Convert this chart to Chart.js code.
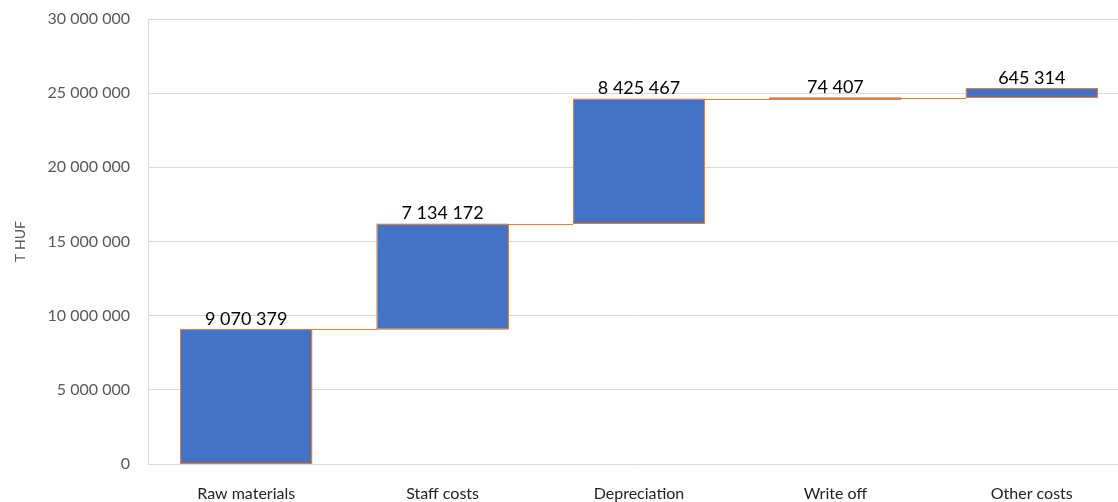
<!DOCTYPE html>
<html>
<head>
<meta charset="utf-8">
<script src="https://cdn.jsdelivr.net/npm/chart.js@4.4.1/dist/chart.umd.min.js"></script>
<style>
  html, body { margin: 0; padding: 0; background: #ffffff; overflow: hidden; }
  #wrap { width: 1118px; height: 502px; position: relative; overflow: hidden; }
  #c { display: block; }
</style>
</head>
<body>
<div id="wrap"><canvas id="c" width="1130" height="502"></canvas></div>
<script>
const categories = ["Raw materials", "Staff costs", "Depreciation", "Write off", "Other costs"];
const amounts = [9070379, 7134172, 8425467, 74407, 645314];
const yTickMin = 0;
const yTickMax = 30000000;
const yTickStep = 5000000;
const yTitle = "T HUF";

function fmt(n) {
  return String(Math.round(n)).replace(/\B(?=(\d{3})+(?!\d))/g, " ");
}

// build floating ranges from the amounts
const ranges = [];
let running = 0;
for (const a of amounts) {
  ranges.push([running, running + a]);
  running += a;
}

const ORANGE = "#ED7D31";
const BLUE = "#4472C4";

const waterfallPlugin = {
  id: "waterfall",
  afterDatasetsDraw(chart) {
    const ctx = chart.ctx;
    const meta = chart.getDatasetMeta(0);
    const y = chart.scales.y;
    ctx.save();
    ctx.strokeStyle = ORANGE;
    ctx.fillStyle = ORANGE;
    ctx.lineWidth = 1;
    // bar outlines (not clamped for thin bars)
    for (let i = 0; i < meta.data.length; i++) {
      const b = meta.data[i];
      const l = Math.round(b.x - b.width / 2) + 0.5;
      const r = Math.round(b.x + b.width / 2) - 0.5;
      const t = Math.round(Math.min(b.y, b.base)) + 0.5;
      const bt = Math.round(Math.max(b.y, b.base)) - 0.5;
      ctx.strokeRect(l, t, r - l, Math.max(bt - t, 1));
    }
    // connectors
    for (let i = 0; i < meta.data.length - 1; i++) {
      const b = meta.data[i];
      const n = meta.data[i + 1];
      const py = Math.round(y.getPixelForValue(ranges[i][1]));
      const x0 = Math.round(b.x + b.width / 2);
      const x1 = Math.round(n.x - n.width / 2);
      ctx.fillRect(x0, py, x1 - x0, 1);
    }
    // value labels
    ctx.fillStyle = "#000000";
    ctx.font = "18px Lato";
    ctx.textAlign = "center";
    ctx.textBaseline = "bottom";
    for (let i = 0; i < meta.data.length; i++) {
      const b = meta.data[i];
      const top = y.getPixelForValue(ranges[i][1]);
      ctx.fillText(fmt(amounts[i]), b.x, top - 1);
    }
    ctx.restore();
  }
};

new Chart(document.getElementById("c"), {
  type: "bar",
  data: {
    labels: categories,
    datasets: [{
      data: ranges,
      backgroundColor: BLUE,
      borderWidth: 0,
      categoryPercentage: 1.0,
      barPercentage: 0.672
    }]
  },
  options: {
    responsive: false,
    animation: false,
    devicePixelRatio: 1,
    layout: { padding: { top: 19, right: 0, bottom: 0, left: 0 } },
    plugins: {
      legend: { display: false },
      tooltip: { enabled: false }
    },
    scales: {
      x: {
        grid: { display: false, drawTicks: false },
        border: { display: false },
        ticks: { color: "#222222", font: { family: "Lato", size: 16 }, padding: 20, maxRotation: 0 },
        afterFit(scale) { scale.height = 38; scale.paddingLeft = 0; scale.paddingRight = 0; }
      },
      y: {
        min: yTickMin,
        max: yTickMax,
        grid: { color: "#d9d9d9", lineWidth: 1, drawTicks: false },
        border: { display: true, color: "#d9d9d9" },
        ticks: {
          stepSize: yTickStep,
          color: "#595959",
          font: { family: "Lato", size: 16 },
          padding: 18,
          callback: (v) => fmt(v)
        },
        title: {
          display: true,
          text: yTitle,
          color: "#595959",
          font: { family: "Lato", size: 14 },
          padding: { top: 12, bottom: 0 }
        },
        afterFit(scale) { scale.width = 148; scale.paddingTop = 0; scale.paddingBottom = 0; }
      }
    }
  },
  plugins: [waterfallPlugin]
});
</script>
</body>
</html>
